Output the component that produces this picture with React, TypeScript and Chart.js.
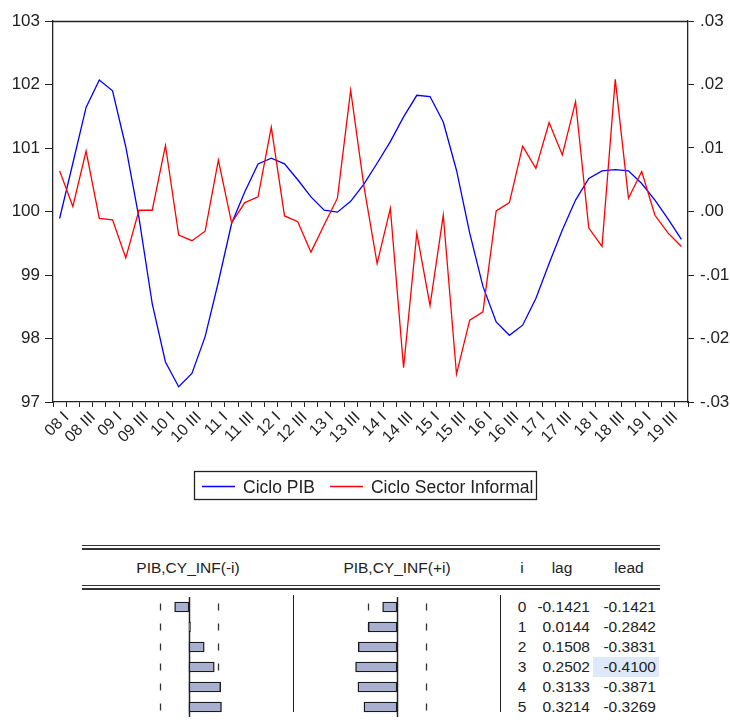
import React, { useEffect, useRef } from 'react';
import { Chart, registerables } from 'chart.js';

Chart.register(...registerables);

// ---------- data ----------
const years = ['08', '09', '10', '11', '12', '13', '14', '15', '16', '17', '18', '19'];
const quarters = ['I', 'II', 'III', 'IV'];
const quarterLabels = years.flatMap((y) => quarters.map((q) => `${y} ${q}`));

const cicloPIB = [
  99.89, 100.76, 101.64, 102.07, 101.9, 101.02, 99.9, 98.55, 97.63, 97.24, 97.45, 98.03,
  98.89, 99.81, 100.31, 100.75, 100.84, 100.75, 100.5, 100.23, 100.02, 99.99, 100.16, 100.43,
  100.76, 101.1, 101.49, 101.83, 101.81, 101.41, 100.65, 99.66, 98.82, 98.26, 98.05, 98.21,
  98.63, 99.18, 99.71, 100.18, 100.52, 100.64, 100.66, 100.64, 100.44, 100.18, 99.88, 99.56,
];

const cicloInformal = [
  0.0064, 0.0008, 0.0095, -0.0011, -0.0013, -0.0073, 0.0002, 0.0002, 0.0104, -0.0037, -0.0046, -0.0031,
  0.0081, -0.0018, 0.0014, 0.0023, 0.0133, -0.0007, -0.0016, -0.0064, -0.0021, 0.0021, 0.0191, 0.004,
  -0.0082, 0.0005, -0.0246, -0.0034, -0.0148, -0.0006, -0.0256, -0.0171, -0.0158, 0.0001, 0.0014, 0.0103,
  0.0068, 0.014, 0.0089, 0.0173, -0.0026, -0.0055, 0.0208, 0.0021, 0.0063, -0.0006, -0.0034, -0.0055,
];

const seriesNames = ['Ciclo PIB', 'Ciclo Sector Informal'];
const seriesColors = ['#0000ff', '#ff0000'];

const lagIndex = [0, 1, 2, 3, 4, 5];
const lagCorr = [-0.1421, 0.0144, 0.1508, 0.2502, 0.3133, 0.3214];
const leadCorr = [-0.1421, -0.2842, -0.3831, -0.41, -0.3871, -0.3269];
const confBand = 0.2887;
const highlightRow = 3;

const headers = ['PIB,CY_INF(-i)', 'PIB,CY_INF(+i)', 'i', 'lag', 'lead'];

// ---------- styles ----------
const FONT = "'Liberation Sans', Arial, sans-serif";
const INK = '#222';
Chart.defaults.font.family = FONT;

const fmtRight = (v: number) => {
  const r = Math.round(v * 100);
  if (r === 0) return '.00';
  return (r < 0 ? '-' : '') + '.0' + Math.abs(r);
};

const framePlugin = {
  id: 'frameTop',
  afterDraw(chart: any) {
    const { ctx, chartArea } = chart;
    ctx.save();
    ctx.strokeStyle = INK;
    ctx.lineWidth = 1.3;
    ctx.beginPath();
    ctx.moveTo(chartArea.left, chartArea.top + 0.5);
    ctx.lineTo(chartArea.right, chartArea.top + 0.5);
    ctx.stroke();
    ctx.restore();
  },
};

const legendPlugin = {
  id: 'boxLegend',
  afterDraw(chart: any) {
    const ctx = chart.ctx;
    ctx.save();
    ctx.strokeStyle = INK;
    ctx.lineWidth = 1.3;
    ctx.strokeRect(194.5, 471.5, 342, 28);
    ctx.font = `17.5px ${FONT}`;
    ctx.textBaseline = 'alphabetic';
    ctx.fillStyle = INK;
    let x = 202;
    const y = 486;
    chart.data.datasets.forEach((ds: any) => {
      ctx.strokeStyle = ds.borderColor;
      ctx.lineWidth = 1.3;
      ctx.beginPath();
      ctx.moveTo(x, y + 0.5);
      ctx.lineTo(x + 33, y + 0.5);
      ctx.stroke();
      x += 41;
      ctx.fillStyle = INK;
      ctx.fillText(ds.label, x, 493);
      x += ctx.measureText(ds.label).width + 15;
    });
    ctx.restore();
  },
};

const corrPlugin = {
  id: 'corrMarks',
  beforeDatasetsDraw(chart: any) {
    const { ctx, scales, height } = chart;
    const xs = scales.x;
    const ys = scales.y;
    ctx.save();
    ctx.strokeStyle = INK;
    ctx.lineWidth = 1.5;
    const x0 = Math.round(xs.getPixelForValue(0)) + 0.5;
    ctx.beginPath();
    ctx.moveTo(x0, 0);
    ctx.lineTo(x0, height);
    ctx.stroke();
    ctx.lineWidth = 1.3;
    ctx.strokeStyle = '#333';
    chart.data.labels.forEach((_: any, i: number) => {
      const yc = ys.getPixelForValue(i);
      [-confBand, confBand].forEach((b) => {
        const xb = Math.round(xs.getPixelForValue(b)) + 0.5;
        ctx.beginPath();
        ctx.moveTo(xb, yc - 3.5);
        ctx.lineTo(xb, yc + 3.5);
        ctx.stroke();
      });
    });
    ctx.restore();
  },
};

function makeCorrChart(canvas: HTMLCanvasElement, values: number[]) {
  return new Chart(canvas, {
    type: 'bar',
    data: {
      labels: lagIndex.map(String),
      datasets: [
        {
          data: values,
          backgroundColor: '#a9b0cf',
          borderColor: '#1a1a1a',
          borderWidth: 1.4,
          borderSkipped: false,
          barThickness: 10,
        },
      ],
    },
    options: {
      indexAxis: 'y',
      animation: false,
      responsive: false,
      events: [],
      layout: { padding: 0 },
      plugins: { legend: { display: false }, tooltip: { enabled: false } },
      scales: {
        x: { display: false, min: -0.99, max: 0.99 },
        y: { display: false, offset: true },
      },
    } as any,
    plugins: [corrPlugin],
  });
}

export default function App() {
  const mainRef = useRef<HTMLCanvasElement>(null);
  const lagRef = useRef<HTMLCanvasElement>(null);
  const leadRef = useRef<HTMLCanvasElement>(null);

  useEffect(() => {
    const main = new Chart(mainRef.current!, {
      type: 'line',
      data: {
        labels: quarterLabels,
        datasets: [
          {
            label: seriesNames[0],
            data: cicloPIB,
            borderColor: seriesColors[0],
            borderWidth: 1.3,
            pointRadius: 0,
            tension: 0,
            yAxisID: 'y',
            order: 1,
          },
          {
            label: seriesNames[1],
            data: cicloInformal,
            borderColor: seriesColors[1],
            borderWidth: 1.3,
            pointRadius: 0,
            tension: 0,
            yAxisID: 'y1',
            order: 0,
          },
        ],
      },
      options: {
        animation: false,
        responsive: false,
        events: [],
        layout: { padding: { top: 21, left: 0, right: 0, bottom: 0 } },
        plugins: { legend: { display: false }, tooltip: { enabled: false } },
        scales: {
          x: {
            type: 'category',
            offset: true,
            grid: {
              display: true,
              drawOnChartArea: false,
              drawTicks: true,
              tickLength: 5,
              color: INK,
              offset: true,
            },
            border: { display: true, color: INK, width: 1.3 },
            ticks: {
              autoSkip: false,
              maxRotation: 45,
              minRotation: 45,
              padding: 1,
              labelOffset: 7,
              color: INK,
              font: { family: FONT, size: 16 },
              callback: (_v: any, i: number) => (i % 2 === 0 ? quarterLabels[i] : ''),
            },
            afterFit: (s: any) => {
              s.height = 108;
            },
          },
          y: {
            position: 'left',
            min: 97,
            max: 103,
            ticks: { stepSize: 1, padding: 5, color: INK, font: { family: FONT, size: 17 } },
            grid: { drawOnChartArea: false, tickLength: 8, color: INK },
            border: { display: true, color: INK, width: 1.3 },
            afterFit: (s: any) => {
              s.width = 53;
            },
          },
          y1: {
            position: 'right',
            min: -0.03,
            max: 0.03,
            ticks: {
              stepSize: 0.01,
              padding: 6,
              color: INK,
              font: { family: FONT, size: 17 },
              callback: (v: any) => fmtRight(Number(v)),
            },
            grid: { drawOnChartArea: false, tickLength: 6, color: INK },
            border: { display: true, color: INK, width: 1.3 },
            afterFit: (s: any) => {
              s.width = 42;
            },
          },
        },
      } as any,
      plugins: [framePlugin, legendPlugin],
    });
    const lag = makeCorrChart(lagRef.current!, lagCorr);
    const lead = makeCorrChart(leadRef.current!, leadCorr);
    return () => {
      main.destroy();
      lag.destroy();
      lead.destroy();
    };
  }, []);

  const textBase: React.CSSProperties = {
    position: 'absolute',
    fontFamily: FONT,
    fontSize: 15.5,
    color: INK,
    lineHeight: '20px',
    whiteSpace: 'nowrap',
  };
  const hLine = (top: number): React.CSSProperties => ({
    position: 'absolute',
    left: 82,
    width: 578,
    top,
    height: 1.5,
    background: '#333',
  });
  const vLine = (left: number): React.CSSProperties => ({
    position: 'absolute',
    left,
    top: 595,
    width: 1.5,
    height: 117,
    background: INK,
  });
  const rowTop = (i: number) => 597 + 20 * i;

  return (
    <div
      style={{
        position: 'absolute',
        left: 0,
        top: 0,
        width: 730,
        height: 725,
        background: '#fff',
        overflow: 'hidden',
      }}
    >
      <canvas
        ref={mainRef}
        width={730}
        height={510}
        style={{ position: 'absolute', left: 0, top: 0, width: 730, height: 510 }}
      />
      <div style={hLine(544.5)} />
      <div style={hLine(548)} />
      <div style={hLine(584.5)} />
      <div style={hLine(588)} />
      <div style={{ ...textBase, left: 88, width: 200, textAlign: 'center', top: 558 }}>{headers[0]}</div>
      <div style={{ ...textBase, left: 297, width: 200, textAlign: 'center', top: 558 }}>{headers[1]}</div>
      <div style={{ ...textBase, left: 502, width: 40, textAlign: 'center', top: 558 }}>{headers[2]}</div>
      <div style={{ ...textBase, left: 532, width: 60, textAlign: 'center', top: 558 }}>{headers[3]}</div>
      <div style={{ ...textBase, left: 599, width: 60, textAlign: 'center', top: 558 }}>{headers[4]}</div>
      <div style={vLine(292.5)} />
      <div style={vLine(499.5)} />
      <div
        style={{
          position: 'absolute',
          left: 593,
          top: rowTop(highlightRow),
          width: 66,
          height: 20,
          background: '#dde9f8',
        }}
      />
      <canvas
        ref={lagRef}
        width={200}
        height={120}
        style={{ position: 'absolute', left: 89, top: 597, width: 200, height: 120 }}
      />
      <canvas
        ref={leadRef}
        width={200}
        height={120}
        style={{ position: 'absolute', left: 297, top: 597, width: 200, height: 120 }}
      />
      {lagIndex.map((k, i) => (
        <React.Fragment key={k}>
          <div style={{ ...textBase, left: 502, width: 40, textAlign: 'center', top: rowTop(i) }}>{k}</div>
          <div style={{ ...textBase, left: 510, width: 80, textAlign: 'right', top: rowTop(i) }}>
            {lagCorr[i].toFixed(4)}
          </div>
          <div style={{ ...textBase, left: 576, width: 80, textAlign: 'right', top: rowTop(i) }}>
            {leadCorr[i].toFixed(4)}
          </div>
        </React.Fragment>
      ))}
    </div>
  );
}
